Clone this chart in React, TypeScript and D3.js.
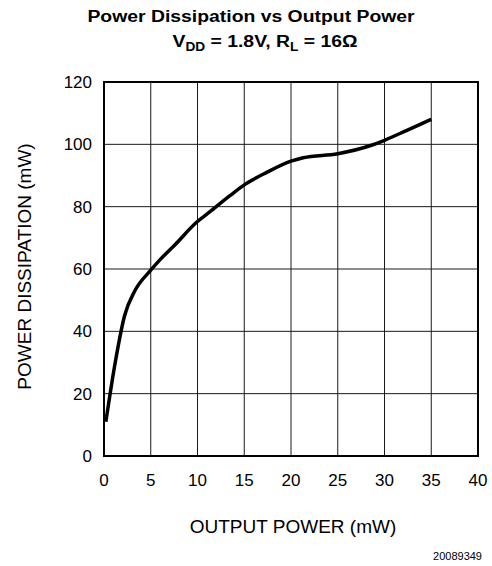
import * as d3 from 'd3';
import { useRef, useEffect } from 'react';

// chart setup
const W = 492;
const H = 566;
const MARGIN = { TOP: 82, BOTTOM: 110, LEFT: 104, RIGHT: 14 };
const FONT = '"Liberation Sans", Arial, Helvetica, sans-serif';

// values
const outputPower = [0.2, 1.2, 2.2, 3.3, 5, 6, 7.6, 9.9, 11.3, 13.5, 15, 17.4, 20, 21.3, 25, 28.6, 30, 32.4, 35];
const dissipation = [11, 30, 45, 53, 59.6, 63, 67.8, 75, 78.3, 83.6, 87, 91, 94.6, 95.7, 97, 99.7, 101.3, 104.5, 108];

const xTicks = [0, 5, 10, 15, 20, 25, 30, 35, 40];
const yTicks = [0, 20, 40, 60, 80, 100, 120];

const PowerChart = () => {
  const gRef = useRef<SVGGElement>(null);

  useEffect(() => {
    const g = d3.select(gRef.current);
    g.selectAll('*').remove();

    const x = d3.scaleLinear().domain([0, 40]).range([MARGIN.LEFT, W - MARGIN.RIGHT]);
    const y = d3.scaleLinear().domain([0, 120]).range([H - MARGIN.BOTTOM, MARGIN.TOP]);

    // grid
    g.append('g')
      .selectAll('line')
      .data(xTicks)
      .join('line')
      .attr('x1', (d) => x(d))
      .attr('x2', (d) => x(d))
      .attr('y1', y(0))
      .attr('y2', y(120))
      .attr('stroke', '#1a1a1a')
      .attr('stroke-width', 1);
    g.append('g')
      .selectAll('line')
      .data(yTicks)
      .join('line')
      .attr('x1', x(0))
      .attr('x2', x(40))
      .attr('y1', (d) => y(d))
      .attr('y2', (d) => y(d))
      .attr('stroke', '#1a1a1a')
      .attr('stroke-width', 1);

    // frame
    g.append('rect')
      .attr('x', x(0))
      .attr('y', y(120))
      .attr('width', x(40) - x(0))
      .attr('height', y(0) - y(120))
      .attr('fill', 'none')
      .attr('stroke', '#000')
      .attr('stroke-width', 2);

    // tick labels
    g.append('g')
      .selectAll('text')
      .data(xTicks)
      .join('text')
      .attr('x', (d) => x(d))
      .attr('y', y(0) + 30)
      .attr('text-anchor', 'middle')
      .attr('font-size', 17)
      .text((d) => d);
    g.append('g')
      .selectAll('text')
      .data(yTicks)
      .join('text')
      .attr('x', x(0) - 12)
      .attr('y', (d) => y(d))
      .attr('dy', '0.36em')
      .attr('text-anchor', 'end')
      .attr('font-size', 17)
      .text((d) => d);

    // curve
    const pts = outputPower.map((p, i) => [p, dissipation[i]] as [number, number]);
    const line = d3
      .line<[number, number]>()
      .x((d) => x(d[0]))
      .y((d) => y(d[1]))
      .curve(d3.curveMonotoneX);
    g.append('path')
      .attr('d', line(pts))
      .attr('fill', 'none')
      .attr('stroke', '#000')
      .attr('stroke-width', 3.5)
      .attr('stroke-linejoin', 'round');
  }, []);

  return (
    <svg
      width={W}
      height={H}
      style={{ position: 'absolute', left: 0, top: 0, background: '#fff' }}
      fontFamily={FONT}
    >
      <text
        x={0}
        y={0}
        transform="translate(251,22) scale(1.14,1)"
        textAnchor="middle"
        fontSize={17}
        fontWeight="bold"
      >
        Power Dissipation vs Output Power
      </text>
      <text
        x={0}
        y={0}
        transform="translate(265,46.5) scale(1.14,1)"
        textAnchor="middle"
        fontSize={17}
        fontWeight="bold"
      >
        V<tspan fontSize={12} dy={4}>DD</tspan>
        <tspan dy={-4}> = 1.8V, R</tspan>
        <tspan fontSize={12} dy={4}>L</tspan>
        <tspan dy={-4}> = 16Ω</tspan>
      </text>
      <g ref={gRef} />
      <text
        transform="translate(31,266.5) rotate(-90)"
        textAnchor="middle"
        fontSize={19}
      >
        POWER DISSIPATION (mW)
      </text>
      <text x={293} y={533} textAnchor="middle" fontSize={19}>
        OUTPUT POWER (mW)
      </text>
      <text x={482} y={559.5} textAnchor="end" fontSize={11}>
        20089349
      </text>
    </svg>
  );
};

export default function App() {
  return <PowerChart />;
}
